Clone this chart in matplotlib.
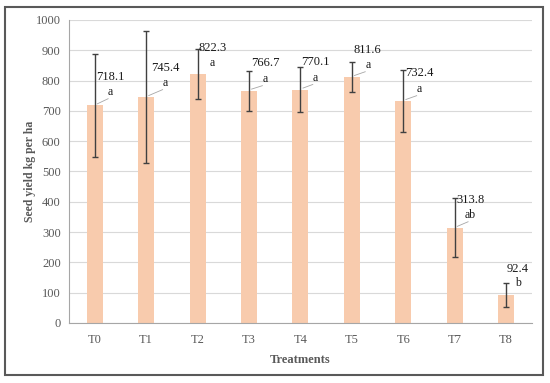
import matplotlib
matplotlib.use("Agg")
import matplotlib.pyplot as plt
from matplotlib.patches import Rectangle

categories = ["T0", "T1", "T2", "T3", "T4", "T5", "T6", "T7", "T8"]
values = [718.1, 745.4, 822.3, 766.7, 770.1, 811.6, 732.4, 313.8, 92.4]
errors = [170, 217, 82, 66, 73, 51, 101, 97, 41]
letters = ["a", "a", "a", "a", "a", "a", "a", "ab", "b"]
yticks = [0, 100, 200, 300, 400, 500, 600, 700, 800, 900, 1000]

plt.rcParams['font.family'] = ['Liberation Serif', 'DejaVu Serif']

fig = plt.figure(figsize=(5.5, 3.83), dpi=100)
ax = fig.add_axes([0.1255, 0.1567, 0.8415, 0.7913])

x = list(range(len(categories)))
ax.bar(x, values, width=0.31, color="#F8CBAD", zorder=2)
ax.errorbar(x, values, yerr=errors, fmt="none", ecolor="#404040",
            elinewidth=1.0, capsize=2.5, capthick=1.0, zorder=3)

# label offsets (in category units / data units)
val_dx = [0.31, 0.37, 0.29, 0.31, 0.29, 0.31, 0.31, 0.31, 0.23]
val_y = [812, 841, 908, 858, 861, 901, 825, 406, 178]
let_y = [762, 792, 858, 805, 809, 851, 772, 356, 132]
for i in x:
    ax.text(i + val_dx[i], val_y[i], f"{values[i]:.1f}", ha="center", va="center",
            fontsize=9, color="#1a1a1a", zorder=4)
    ax.text(i + val_dx[i], let_y[i], letters[i], ha="center", va="center",
            fontsize=8.5, color="#1a1a1a", zorder=4)
    if i != 8 and i != 2:
        ax.plot([i + 0.05, i + val_dx[i] - 0.05], [values[i] + 5, let_y[i] - 22],
                color="#A6A6A6", lw=0.6, zorder=4)

ax.set_xlim(-0.5, 8.5)
ax.set_ylim(0, 1000)
ax.set_yticks(yticks)
ax.set_xticks(x)
ax.set_xticklabels(categories)
ax.yaxis.grid(True, color="#D9D9D9", lw=0.8, zorder=0)
ax.set_axisbelow(True)
for s in ["top", "right"]:
    ax.spines[s].set_visible(False)
ax.spines["left"].set_color("#A6A6A6")
ax.spines["bottom"].set_color("#A6A6A6")
ax.tick_params(axis="both", length=0, labelsize=9, colors="#595959", pad=8)
ax.tick_params(axis="y", pad=6)

ax.set_ylabel("Seed yield kg per ha", fontsize=8.5, fontweight="bold", color="#595959", labelpad=0)
ax.set_xlabel("Treatments", fontsize=9, fontweight="bold", color="#595959", labelpad=6)

fig.patches.append(Rectangle((5/550, 1 - 375/383), 538/550, 368/383, transform=fig.transFigure,
                             fill=False, edgecolor="#595959", lw=1.5))

fig.savefig("out.png", dpi=100)
